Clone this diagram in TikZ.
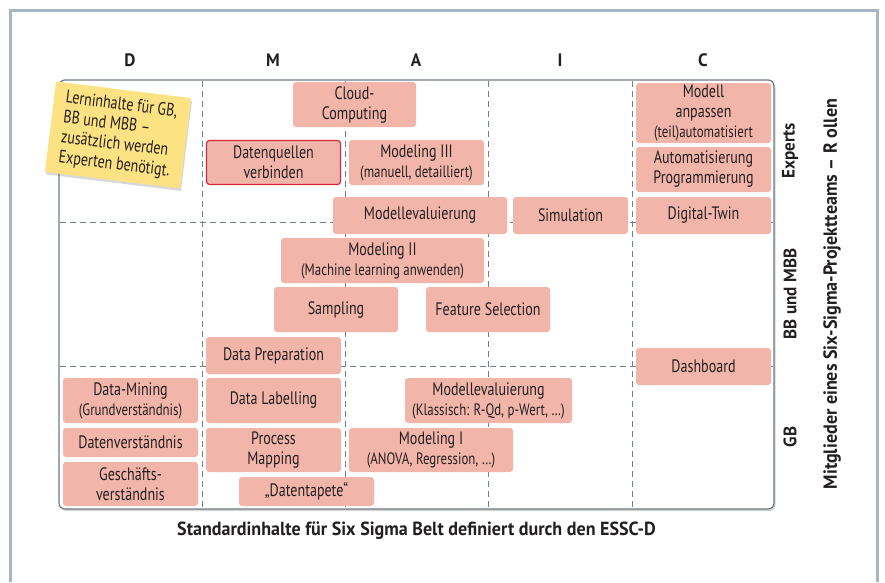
\documentclass[tikz,border=0pt]{standalone}
\usepackage{fontspec}
\setmainfont{PT Sans}[
  UprightFeatures={FakeStretch=0.78},
  BoldFeatures={FakeStretch=0.95}]
\usetikzlibrary{shadows}

\definecolor{boxfill}{HTML}{F2B5A9}
\definecolor{notefill}{HTML}{FDE283}
\definecolor{framegray}{HTML}{A7B6C4}
\definecolor{panelgray}{HTML}{6F7A84}
\definecolor{dashgray}{HTML}{6E8290}
\definecolor{ink}{HTML}{231F20}
\definecolor{hotred}{HTML}{D8283A}

\newcommand\klein[1]{{\fontsize{16.5}{18}\selectfont #1}}

\begin{document}
\begin{tikzpicture}[x=1pt,y=-1pt,
    every node/.style={text=ink,font=\fontsize{18}{20}\selectfont},
    box/.style={fill=boxfill,rounded corners=3pt,align=center,inner sep=0pt},
    head/.style={font=\fontsize{18}{20}\selectfont\bfseries},
    bighead/.style={font=\fontsize{19}{22}\selectfont\bfseries},
    grid/.style={dashgray,dash pattern=on 6pt off 4pt,line width=0.9pt}]
  \useasboundingbox (0,0) rectangle (885,582);
  % outer frame, open at the bottom
  \draw[framegray,line width=3pt] (10,582) -- (10,10) -- (877,10) -- (877,582);

  % column heads
  \node[head] (D) at (130,60) {D};
  \node[head] (M) at (273,60) {M};
  \node[head] (A) at (416,60) {A};
  \node[head] (I) at (560,60) {I};
  \node[head] (C) at (703,60) {C};

  % panel with grid
  \draw[panelgray,fill=white,line width=1.2pt,rounded corners=6pt,
    drop shadow={shadow xshift=1.5pt,shadow yshift=-2pt,opacity=0.35}]
    (59,80) rectangle (774,509);
  \foreach \x in {202,345,488,632}
    \draw[grid] (\x,81) -- (\x,508);
  \foreach \y in {222,366}
    \draw[grid] (60,\y) -- (773,\y);

  % Experts
  \node[box,minimum width=123pt,minimum height=45pt] (cloud) at (354.5,104.5) {Cloud-\\Computing};
  \node[box,draw=hotred,line width=1.2pt,minimum width=134pt,minimum height=44pt] (quellen) at (273.5,162.5) {Datenquellen\\verbinden};
  \node[box,minimum width=135pt,minimum height=45pt] (modIII) at (416.5,162.5) {Modeling III\\\klein{(manuell, detailliert)}};
  \node[box,minimum width=174pt,minimum height=37pt] (evalE) at (420,215.5) {Modellevaluierung};
  \node[box,minimum width=115pt,minimum height=37pt] (sim) at (570.5,215.5) {Simulation};
  \node[box,minimum width=135pt,minimum height=37pt] (twin) at (703.5,215.5) {Digital-Twin};
  \node[box,minimum width=135pt,minimum height=60pt] (anpassen) at (703.5,113) {Modell\\anpassen\\\klein{(teil)automatisiert}};
  \node[box,minimum width=135pt,minimum height=45pt] (autom) at (703.5,169.5) {Automatisierung\\Programmierung};

  % BB und MBB
  \node[box,minimum width=203pt,minimum height=45pt] (modII) at (382.5,260.5) {Modeling II\\\klein{(Machine learning anwenden)}};
  \node[box,minimum width=124pt,minimum height=45pt] (sampling) at (336,309.5) {Sampling};
  \node[box,minimum width=124pt,minimum height=45pt] (feature) at (488,309.5) {Feature Selection};
  \node[box,minimum width=135pt,minimum height=37pt] (prep) at (273.5,355.5) {Data Preparation};
  \node[box,minimum width=135pt,minimum height=37pt] (dash) at (703.5,366.5) {Dashboard};

  % GB
  \node[box,minimum width=135pt,minimum height=45pt] (mining) at (130.5,400.5) {Data-Mining\\\klein{(Grundverständnis)}};
  \node[box,minimum width=135pt,minimum height=45pt] (labelling) at (273.5,400.5) {Data Labelling};
  \node[box,minimum width=167pt,minimum height=45pt] (evalGB) at (488.5,400.5) {Modellevaluierung\\\klein{(Klassisch: R-Qd, p-Wert, \ldots)}};
  \node[box,minimum width=135pt,minimum height=29pt] (verst) at (130.5,442.5) {Datenverständnis};
  \node[box,minimum width=135pt,minimum height=44pt] (mapping) at (273.5,450) {Process\\Mapping};
  \node[box,minimum width=164pt,minimum height=44pt] (modI) at (431,450) {Modeling I\\\klein{(ANOVA, Regression, \ldots)}};
  \node[box,minimum width=135pt,minimum height=44pt] (geschaeft) at (130.5,484) {Geschäfts-\\verständnis};
  \node[box,minimum width=135pt,minimum height=29pt] (tapete) at (306.5,491.5) {„Datentapete“};

  % sticky note
  \node[fill=notefill,rotate=-7,minimum width=136pt,minimum height=91pt,
    align=left,inner sep=0pt,
    drop shadow={shadow xshift=1pt,shadow yshift=-2.5pt,opacity=0.3}]
    (note) at (118,135) {Lerninhalte für GB,\\BB und MBB --\\zusätzlich werden\\Experten benötigt.};

  % row labels
  \node[head,rotate=90] (experts) at (790,151) {Experts};
  \node[head,rotate=90] (bb) at (790,294) {BB und MBB};
  \node[head,rotate=90] (gb) at (790,437) {GB};
  \node[bighead,rotate=90] (rollen) at (832,294) {Mitglieder eines Six-Sigma-Projektteams -- R ollen};

  % bottom caption
  \node[bighead] (caption) at (416.5,531) {Standardinhalte für Six Sigma Belt definiert durch den ESSC-D};
\end{tikzpicture}
\end{document}
